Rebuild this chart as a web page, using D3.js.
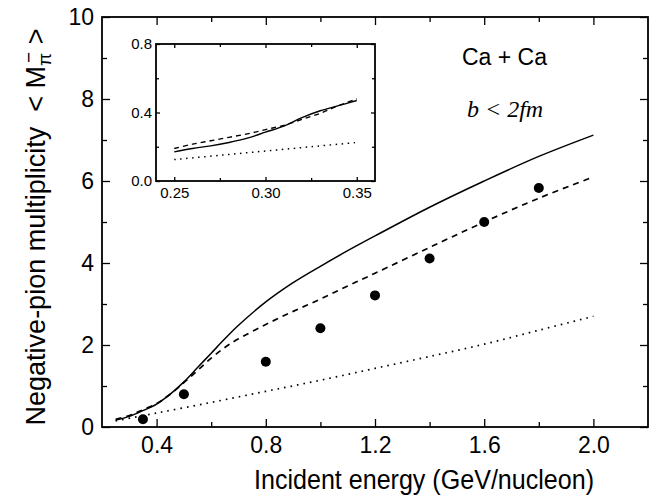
<!DOCTYPE html>
<html lang="en">
	<head>
		<meta charset="utf-8">
		<title>Negative-pion multiplicity, Ca + Ca</title>
		<script type="text/javascript" src="https://cdn.jsdelivr.net/npm/d3@7"></script>
		<style type="text/css">
			body {
				margin: 0;
				background: #fff;
			}
			.axis text {
				font-family: "Liberation Sans", Arial, sans-serif;
				fill: #000;
			}
			.axis path, .axis line {
				stroke: #000;
			}
		</style>
	</head>
	<body>
		<script type="text/javascript">

			//Main panel data
			var energy = [0.25, 0.30, 0.35, 0.40, 0.45, 0.50, 0.55, 0.60, 0.65, 0.70, 0.80, 0.90, 1.00, 1.10, 1.20, 1.40, 1.60, 1.80, 2.00];
			var solidM = [0.17, 0.26, 0.40, 0.56, 0.80, 1.10, 1.45, 1.80, 2.15, 2.48, 3.05, 3.52, 3.92, 4.30, 4.66, 5.36, 6.00, 6.60, 7.12];
			var dashedM = [0.19, 0.28, 0.42, 0.57, 0.80, 1.08, 1.38, 1.68, 1.94, 2.15, 2.50, 2.82, 3.12, 3.44, 3.75, 4.38, 5.00, 5.58, 6.10];
			var dottedE = [0.25, 0.40, 0.60, 0.80, 1.00, 1.20, 1.40, 1.60, 1.80, 2.00];
			var dottedM = [0.15, 0.34, 0.60, 0.87, 1.14, 1.43, 1.72, 2.02, 2.36, 2.70];

			//Measured points
			var dataE = [0.35, 0.50, 0.80, 1.00, 1.20, 1.40, 1.60, 1.80];
			var dataM = [0.19, 0.80, 1.59, 2.41, 3.21, 4.11, 5.00, 5.83];

			//Inset data
			var insetE = [0.25, 0.26, 0.27, 0.28, 0.29, 0.30, 0.31, 0.32, 0.33, 0.34, 0.35];
			var insetSolid = [0.17, 0.19, 0.205, 0.225, 0.25, 0.285, 0.32, 0.37, 0.41, 0.44, 0.47];
			var insetDashed = [0.19, 0.215, 0.235, 0.255, 0.275, 0.30, 0.325, 0.36, 0.395, 0.44, 0.48];
			var insetDotE = [0.25, 0.275, 0.30, 0.325, 0.35];
			var insetDotted = [0.125, 0.15, 0.175, 0.20, 0.225];

			//Tick values
			var xMajor = [0.4, 0.8, 1.2, 1.6, 2.0];
			var xMinor = [0.6, 1.0, 1.4, 1.8];
			var yMajor = [0, 2, 4, 6, 8, 10];
			var yMinor = [1, 3, 5, 7, 9];
			var inXMajor = [0.25, 0.30, 0.35];
			var inXMinor = [0.275, 0.325];
			var inYMajor = [0.0, 0.4, 0.8];
			var inYMinor = [0.2, 0.6];

			//SVG size
			var w = 668;
			var h = 502;

			var svg = d3.select("body")
						.append("svg")
						.attr("width", w)
						.attr("height", h);

			//Scales for main panel
			var xScale = d3.scaleLinear().domain([0.2, 2.2]).range([102, 648]);
			var yScale = d3.scaleLinear().domain([0, 10]).range([427, 17]);

			//Scales for inset
			var xIn = d3.scaleLinear().domain([0.24, 0.36]).range([156, 375]);
			var yIn = d3.scaleLinear().domain([0, 0.8]).range([181, 44]);

			//Helper to draw inward ticks on all four sides of a box
			function drawFrame(g, xs, ys, xMaj, xMin, yMaj, yMin, big, small, fmtX, fmtY, fontSize, pad) {
				var x0 = xs.range()[0], x1 = xs.range()[1];
				var y0 = ys.range()[0], y1 = ys.range()[1];

				//bottom with labels
				g.append("g")
					.attr("class", "axis")
					.attr("transform", "translate(0," + y0 + ")")
					.call(d3.axisBottom(xs).tickValues(xMaj).tickSize(-big).tickPadding(pad).tickFormat(fmtX))
					.call(function(a) { a.select(".domain").remove(); })
					.selectAll("text").style("font-size", fontSize + "px");
				g.append("g")
					.attr("class", "axis")
					.attr("transform", "translate(0," + y0 + ")")
					.call(d3.axisBottom(xs).tickValues(xMin).tickSize(-small).tickFormat(""))
					.call(function(a) { a.select(".domain").remove(); });

				//top
				g.append("g")
					.attr("class", "axis")
					.attr("transform", "translate(0," + y1 + ")")
					.call(d3.axisTop(xs).tickValues(xMaj).tickSize(-big).tickFormat(""))
					.call(function(a) { a.select(".domain").remove(); });
				g.append("g")
					.attr("class", "axis")
					.attr("transform", "translate(0," + y1 + ")")
					.call(d3.axisTop(xs).tickValues(xMin).tickSize(-small).tickFormat(""))
					.call(function(a) { a.select(".domain").remove(); });

				//left with labels
				g.append("g")
					.attr("class", "axis")
					.attr("transform", "translate(" + x0 + ",0)")
					.call(d3.axisLeft(ys).tickValues(yMaj).tickSize(-big).tickPadding(pad - 2).tickFormat(fmtY))
					.call(function(a) { a.select(".domain").remove(); })
					.selectAll("text").style("font-size", fontSize + "px");
				g.append("g")
					.attr("class", "axis")
					.attr("transform", "translate(" + x0 + ",0)")
					.call(d3.axisLeft(ys).tickValues(yMin).tickSize(-small).tickFormat(""))
					.call(function(a) { a.select(".domain").remove(); });

				//right
				g.append("g")
					.attr("class", "axis")
					.attr("transform", "translate(" + x1 + ",0)")
					.call(d3.axisRight(ys).tickValues(yMaj).tickSize(-big).tickFormat(""))
					.call(function(a) { a.select(".domain").remove(); });
				g.append("g")
					.attr("class", "axis")
					.attr("transform", "translate(" + x1 + ",0)")
					.call(d3.axisRight(ys).tickValues(yMin).tickSize(-small).tickFormat(""))
					.call(function(a) { a.select(".domain").remove(); });

				g.selectAll(".tick line").attr("stroke-width", 1.3);

				//box
				g.append("rect")
					.attr("x", x0)
					.attr("y", y1)
					.attr("width", x1 - x0)
					.attr("height", y0 - y1)
					.attr("fill", "none")
					.attr("stroke", "#000")
					.attr("stroke-width", 1.8);
			}

			//Line generator from two arrays
			function curve(xs, ys, ex, vals) {
				return d3.line()
					.x(function(d, i) { return xs(ex[i]); })
					.y(function(d) { return ys(d); })
					.curve(d3.curveCatmullRom.alpha(0.5))(vals);
			}

			function drawLines(g, xs, ys, sets) {
				sets.forEach(function(s) {
					g.append("path")
						.attr("d", curve(xs, ys, s.x, s.y))
						.attr("fill", "none")
						.attr("stroke", "#000")
						.attr("stroke-width", s.wd)
						.attr("stroke-dasharray", s.dash);
				});
			}

			//Main panel
			var mainG = svg.append("g");

			drawLines(mainG, xScale, yScale, [
				{x: energy, y: solidM, dash: null, wd: 1.5},
				{x: energy, y: dashedM, dash: "6,5", wd: 1.7},
				{x: dottedE, y: dottedM, dash: "1.6,5", wd: 1.7}
			]);

			mainG.selectAll("circle.pt")
				.data(dataM)
				.enter()
				.append("circle")
				.attr("class", "pt")
				.attr("cx", function(d, i) { return xScale(dataE[i]); })
				.attr("cy", function(d) { return yScale(d); })
				.attr("r", 5)
				.attr("fill", "#000");

			drawFrame(mainG, xScale, yScale, xMajor, xMinor, yMajor, yMinor, 8, 5,
				d3.format(".1f"), d3.format("d"), 23, 10);

			//Inset panel
			var insetG = svg.append("g");

			insetG.append("rect")
				.attr("x", xIn.range()[0])
				.attr("y", yIn.range()[1])
				.attr("width", xIn.range()[1] - xIn.range()[0])
				.attr("height", yIn.range()[0] - yIn.range()[1])
				.attr("fill", "#fff");

			drawLines(insetG, xIn, yIn, [
				{x: insetE, y: insetSolid, dash: null, wd: 1.4},
				{x: insetE, y: insetDashed, dash: "5,4", wd: 1.4},
				{x: insetDotE, y: insetDotted, dash: "1.5,4.5", wd: 1.5}
			]);

			drawFrame(insetG, xIn, yIn, inXMajor, inXMinor, inYMajor, inYMinor, 4, 3,
				d3.format(".2f"), d3.format(".1f"), 15, 6);

			//Axis titles
			svg.append("text")
				.attr("x", 424)
				.attr("y", 489)
				.attr("text-anchor", "middle")
				.attr("textLength", 340)
				.attr("lengthAdjust", "spacingAndGlyphs")
				.style("font-family", "'Liberation Sans', Arial, sans-serif")
				.style("font-size", "27px")
				.text("Incident energy (GeV/nucleon)");

			var yTitle = svg.append("text")
				.attr("transform", "translate(45,227) rotate(-90)")
				.attr("text-anchor", "middle")
				.style("font-family", "'Liberation Sans', Arial, sans-serif")
				.style("font-size", "27px");
			yTitle.append("tspan").text("Negative-pion multiplicity\u00a0\u00a0< M");
			yTitle.append("tspan").attr("dy", 6).style("font-size", "19px").text("\u03c0");
			yTitle.append("tspan").attr("dx", -10).attr("dy", -16).style("font-size", "19px").text("\u2212");
			yTitle.append("tspan").attr("dy", 10).text("\u00a0>");

			//Annotations
			svg.append("text")
				.attr("x", 462)
				.attr("y", 65)
				.style("font-family", "'Liberation Sans', Arial, sans-serif")
				.style("font-size", "23px")
				.text("Ca + Ca");

			svg.append("text")
				.attr("x", 467)
				.attr("y", 117)
				.style("font-family", "'Liberation Serif', 'Times New Roman', serif")
				.style("font-style", "italic")
				.style("font-size", "24px")
				.text("b < 2fm");

		</script>
	</body>
</html>
